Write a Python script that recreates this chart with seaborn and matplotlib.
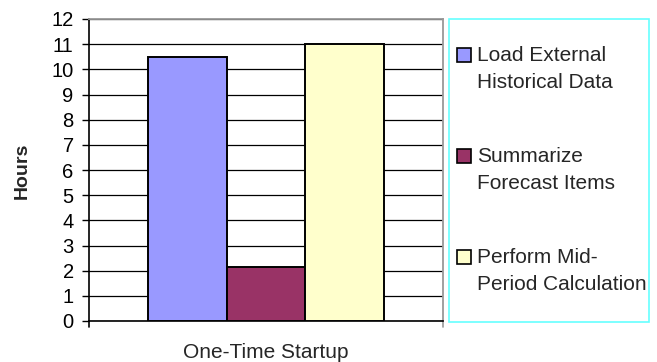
import matplotlib
matplotlib.use("Agg")
import matplotlib.pyplot as plt
import seaborn as sns
import pandas as pd
from matplotlib.patches import Rectangle

# data
categories = ["One-Time Startup"]
tasks = ["Load External\nHistorical Data",
         "Summarize\nForecast Items",
         "Perform Mid-\nPeriod Calculation"]
hours = [10.5, 2.15, 11.0]
colors = ["#9999FF", "#993366", "#FFFFCC"]
yticks = list(range(0, 13))

df = pd.DataFrame({"category": categories * len(tasks), "task": tasks, "hours": hours})

sns.set_style("white")
plt.rcParams["font.family"] = ["Liberation Sans", "DejaVu Sans"]

fig = plt.figure(figsize=(6.57, 3.62), dpi=100)
ax = fig.add_axes([89 / 657, 1 - 321 / 362, 354 / 657, 302 / 362])

sns.barplot(data=df, x="category", y="hours", hue="task", palette=colors,
            width=0.667, gap=0, edgecolor="black", linewidth=1.4,
            saturation=1, legend=False, ax=ax, zorder=3)

ax.set_ylim(0, 12)
ax.set_xlim(-0.5, 0.5)
ax.set_yticks(yticks)
ax.yaxis.grid(True, color="black", linewidth=0.9, zorder=0)
ax.set_axisbelow(True)
ax.tick_params(axis="y", left=True, length=5, width=1, direction="out",
               labelsize=14.5, pad=6, colors="black")
ax.tick_params(axis="x", bottom=False, labelsize=15, pad=12)
ax.set_xlabel("")
ax.set_ylabel("Hours", fontsize=14, fontweight="bold")
ax.yaxis.set_label_coords(-0.164, 0.497)

for side in ["top", "right"]:
    ax.spines[side].set_color("#999999")
    ax.spines[side].set_linewidth(1.3)
for side in ["left", "bottom"]:
    ax.spines[side].set_color("black")
    ax.spines[side].set_linewidth(1.2)

# small ticks hanging below the category axis at both ends
for xv in [-0.5, 0.5]:
    ax.plot([xv, xv], [0, -0.22], color="black" if xv < 0 else "#999999",
            lw=1.2, clip_on=False)

# legend box (drawn by hand so the swatch sits on the first text line)
fig.patches.append(Rectangle((449 / 657, 1 - 322 / 362), 200 / 657, 303 / 362,
                             transform=fig.transFigure, fill=False,
                             edgecolor="#66FFFF", linewidth=1.2))
entry_top = [55, 156, 257]
for c, label, ytop in zip(colors, tasks, entry_top):
    fig.patches.append(Rectangle((457 / 657, 1 - (ytop + 7) / 362), 14 / 657, 14 / 362,
                                 transform=fig.transFigure, facecolor=c,
                                 edgecolor="black", linewidth=1.2))
    fig.text(477 / 657, 1 - (ytop - 9) / 362, label, fontsize=15, va="top",
             ha="left", linespacing=1.55)

fig.savefig("out.png", dpi=100)
